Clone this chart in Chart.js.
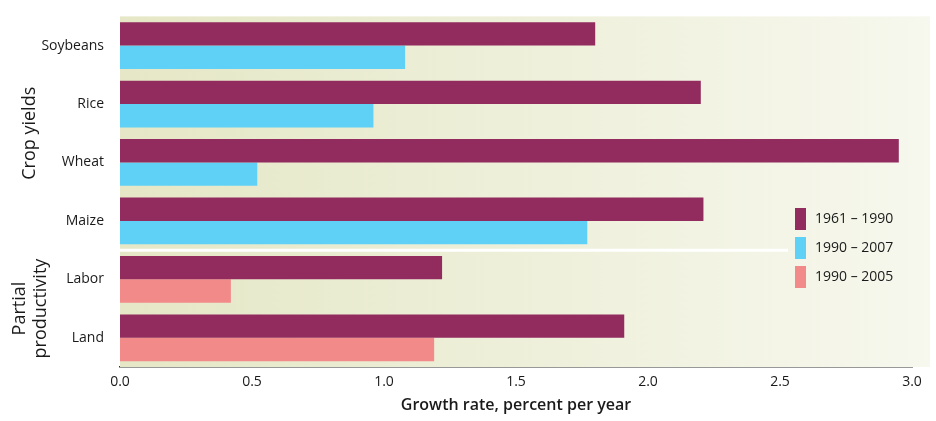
<!DOCTYPE html>
<html>
<head>
<meta charset="utf-8">
<script src="https://cdn.jsdelivr.net/npm/chart.js@4"></script>
<style>
  html, body { margin: 0; padding: 0; background: #fff; }
  #wrap { width: 936px; height: 421px; }
</style>
</head>
<body>
<div id="wrap"><canvas id="c"></canvas></div>
<script>
// ── DATA ──
const categories  = ['Soybeans', 'Rice', 'Wheat', 'Maize', 'Labor', 'Land'];
const series1961  = [1.80, 2.20, 2.95, 2.21, 1.22, 1.91];
const series1990a = [1.08, 0.96, 0.52, 1.77, null, null];
const series1990b = [null, null, null, null, 0.42, 1.19];
const seriesNames = ['1961 – 1990', '1990 – 2007', '1990 – 2005'];
const xTicks      = [0, 0.5, 1, 1.5, 2, 2.5, 3];

const COLORS = {
  maroon: '#922b5e',
  cyan:   '#5fd0f6',
  pink:   '#f28a8a',
  text:   '#1a1a1a',
};
const FONT = "'Open Sans', sans-serif";

// ── BACKGROUND + SEPARATOR + GROUP LABELS + LEGEND ──
const decor = {
  id: 'decor',
  beforeDatasetsDraw(chart) {
    const { ctx, chartArea: a, scales: { y } } = chart;
    const g = ctx.createLinearGradient(a.left, 0, chart.width, 0);
    g.addColorStop(0, '#e5e7c6');
    g.addColorStop(1, '#f7f8ee');
    ctx.save();
    ctx.fillStyle = g;
    ctx.fillRect(a.left, a.top, chart.width - 6 - a.left, a.bottom - a.top);
    // white line between crops and productivity
    const sep = (y.getPixelForValue(3) + y.getPixelForValue(4)) / 2;
    ctx.strokeStyle = '#fff';
    ctx.lineWidth = 3;
    ctx.beginPath();
    ctx.moveTo(a.left, sep);
    ctx.lineTo(788, sep);
    ctx.stroke();
    ctx.restore();
  },
  afterDraw(chart) {
    const { ctx, scales: { y } } = chart;
    const drawRot = (lines, cy) => {
      ctx.save();
      ctx.translate(30, cy);
      ctx.rotate(-Math.PI / 2);
      lines.forEach((t, i) => ctx.fillText(t, 0, (i - (lines.length - 1) / 2) * 21));
      ctx.restore();
    };
    ctx.save();
    ctx.fillStyle = COLORS.text;
    ctx.textAlign = 'center';
    ctx.textBaseline = 'middle';
    ctx.font = `18px ${FONT}`;
    drawRot(['Crop yields'], (y.getPixelForValue(0) + y.getPixelForValue(3)) / 2);
    drawRot(['Partial', 'productivity'], (y.getPixelForValue(4) + y.getPixelForValue(5)) / 2);
    ctx.restore();

    // legend
    const cols = [COLORS.maroon, COLORS.cyan, COLORS.pink];
    ctx.save();
    ctx.font = `14px ${FONT}`;
    ctx.textBaseline = 'middle';
    seriesNames.forEach((name, i) => {
      const cy = 219 + i * 29;
      ctx.fillStyle = cols[i];
      ctx.fillRect(795, cy - 11, 11, 22);
      ctx.fillStyle = COLORS.text;
      ctx.fillText(name, 815, cy);
    });
    ctx.restore();
  },
};

new Chart(document.getElementById('c'), {
  type: 'bar',
  data: {
    labels: categories,
    datasets: [
      { label: seriesNames[0], data: series1961,  backgroundColor: COLORS.maroon, stack: 'a' },
      { label: seriesNames[1], data: series1990a, backgroundColor: COLORS.cyan,   stack: 'b' },
      { label: seriesNames[2], data: series1990b, backgroundColor: COLORS.pink,   stack: 'b' },
    ],
  },
  options: {
    indexAxis: 'y',
    responsive: true,
    maintainAspectRatio: false,
    animation: false,
    layout: { padding: { top: 4, right: 24, bottom: 6, left: 0 } },
    datasets: { bar: { categoryPercentage: 0.8, barPercentage: 1.0 } },
    plugins: { legend: { display: false }, tooltip: { enabled: false } },
    scales: {
      x: {
        stacked: true,
        min: 0, max: 3,
        afterBuildTicks: s => { s.ticks = xTicks.map(v => ({ value: v })); },
        grid: { display: false, drawTicks: true, tickLength: 6, tickColor: '#333' },
        border: { color: '#333', width: 1.5 },
        ticks: { color: COLORS.text, font: { family: FONT, size: 14 }, padding: 1,
                 callback: v => v.toFixed(1) },
        title: { display: true, text: 'Growth rate, percent per year', color: COLORS.text,
                 font: { family: FONT, size: 16, weight: '600' }, padding: { top: 4, bottom: 0 } },
      },
      y: {
        stacked: true,
        afterFit: s => { s.width = 120; },
        grid: { display: false },
        border: { display: false },
        ticks: { color: COLORS.text, font: { family: FONT, size: 14 }, padding: 8 },
      },
    },
  },
  plugins: [decor],
});
</script>
</body>
</html>
